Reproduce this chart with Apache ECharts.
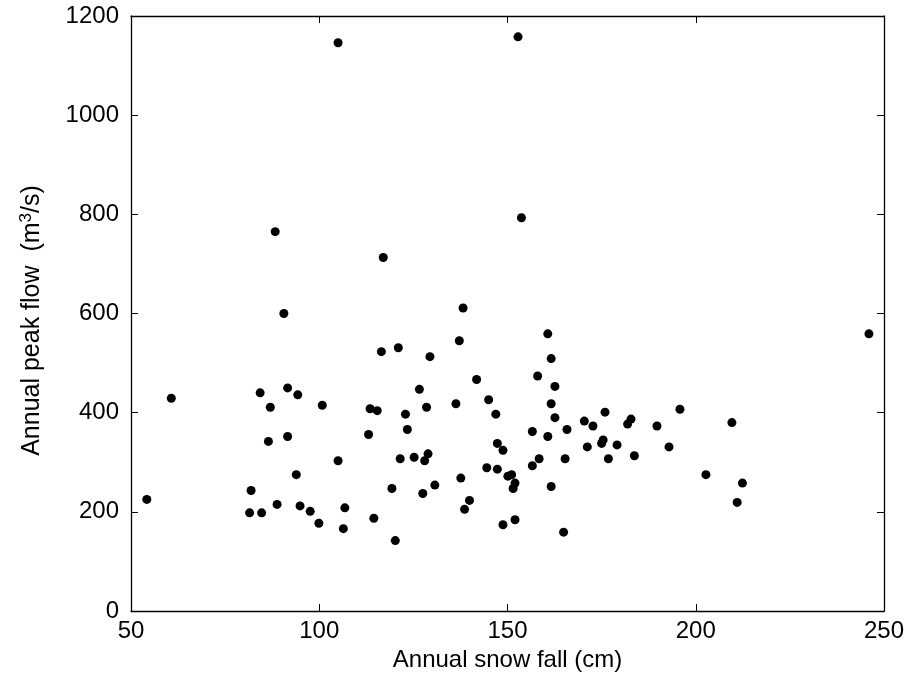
<!DOCTYPE html>
<html>
<head>
<meta charset="utf-8">
<script src="https://cdn.jsdelivr.net/npm/echarts@6/dist/echarts.min.js"></script>
<style>
  html, body { margin: 0; padding: 0; background: #fff; }
  #chart { width: 921px; height: 684px; }
</style>
</head>
<body>
<div id="chart"></div>
<script>
// snow fall (cm) vs peak flow (m3/s)
var snowFall = [
    54.2, 60.7, 81.5, 81.9, 84.7, 84.3, 87.0, 86.5, 88.8, 91.6,
    91.6, 94.3, 93.9, 94.9, 97.6, 99.9, 100.8, 105.0, 106.8, 106.4,
    113.1, 113.5, 115.4, 114.5, 116.5, 121.0, 119.3, 120.2, 121.5, 122.9,
    123.4, 125.2, 126.6, 127.5, 128.0, 128.5, 128.9, 129.4, 130.7, 136.3,
    137.2, 137.6, 138.6, 139.9, 141.8, 144.5, 145.0, 146.9, 147.3, 147.3,
    148.8, 148.8, 150.1, 151.1, 152.0, 151.5, 152.0,
    160.7, 161.6, 158.0, 162.6, 161.6, 162.6, 156.6, 160.7, 165.8, 158.4,
    156.6, 165.3, 161.6, 164.9, 170.4, 172.7, 175.9, 171.2, 175.0, 175.4,
    176.8, 179.1, 181.9, 182.8, 183.7, 189.7, 192.9, 195.8, 202.7, 209.6,
    212.4, 211.0, 246.0,
    105.0, 152.8, 88.3, 117.0, 90.6, 138.2, 153.7
];
var peakFlow = [
    225, 429, 198, 243, 198, 440, 411, 342, 215, 450,
    352, 436, 275, 212, 201, 177, 415, 303, 208, 166,
    356, 408, 404, 187, 523, 531, 247, 142, 307, 397,
    366, 310, 447, 237, 303, 411, 317, 513, 254, 418,
    545, 268, 205, 223, 467, 289, 426, 397, 338, 286,
    324, 174, 272, 275, 258, 247, 184,
    559, 509, 474, 453, 418, 390, 362, 352, 366, 307,
    293, 307, 251, 159, 383, 373, 401, 331, 338, 345,
    307, 335, 377, 387, 313, 373, 331, 407, 275, 380,
    258, 219, 559,
    1146, 1158, 765, 713, 600, 611, 793
];
var xTicks = [50, 100, 150, 200, 250];
var yTicks = [0, 200, 400, 600, 800, 1000, 1200];

var font = "'Liberation Sans', Arial, sans-serif";
var chart = echarts.init(document.getElementById('chart'));

function boxAxis(extra){
    var base = {
        type:'value',
        axisLine:{ show:true, onZero:false, lineStyle:{ color:'#000', width:1.3 } },
        axisTick:{ show:true, inside:true, length:7, lineStyle:{ color:'#000' } },
        splitLine:{ show:false },
        axisLabel:{ color:'#000', fontSize:24, fontFamily:font }
    };
    return Object.assign(base, extra);
}

chart.setOption({
    animation:false,
    backgroundColor:'#fff',
    grid:{ left:131, right:37, top:16, bottom:73 },
    xAxis:[
        boxAxis({
            position:'bottom', min:xTicks[0], max:xTicks[xTicks.length-1], interval:50,
            name:'Annual snow fall (cm)', nameLocation:'middle', nameGap:34,
            nameTextStyle:{ color:'#000', fontSize:24, fontFamily:font },
            axisLabel:{ color:'#000', fontSize:24, fontFamily:font, margin:8 }
        }),
        boxAxis({
            position:'top', min:xTicks[0], max:xTicks[xTicks.length-1], interval:50,
            axisLabel:{ show:false }
        })
    ],
    yAxis:[
        boxAxis({
            position:'left', min:yTicks[0], max:yTicks[yTicks.length-1], interval:200,
            name:'{a|Annual peak flow  (m}{s|3}{a|/s)}', nameLocation:'middle', nameGap:84,
            nameTextStyle:{
                color:'#000', fontSize:25, fontFamily:font, padding:[0, 14, 0, 0],
                rich:{
                    a:{ color:'#000', fontSize:25, fontFamily:font, lineHeight:30 },
                    s:{ color:'#000', fontSize:17, fontFamily:font, lineHeight:30, padding:[0, 0, 12, 0] }
                }
            },
            axisLabel:{ color:'#000', fontSize:24, fontFamily:font, margin:12,
                formatter:function(v){ return String(v); } }
        }),
        boxAxis({
            position:'right', min:yTicks[0], max:yTicks[yTicks.length-1], interval:200,
            axisLabel:{ show:false }
        })
    ],
    series:[{
        type:'scatter',
        symbol:'circle',
        symbolSize:9,
        itemStyle:{ color:'#000', opacity:1 },
        data:snowFall.map(function(v,i){ return [v, peakFlow[i]]; })
    }]
});
</script>
</body>
</html>
